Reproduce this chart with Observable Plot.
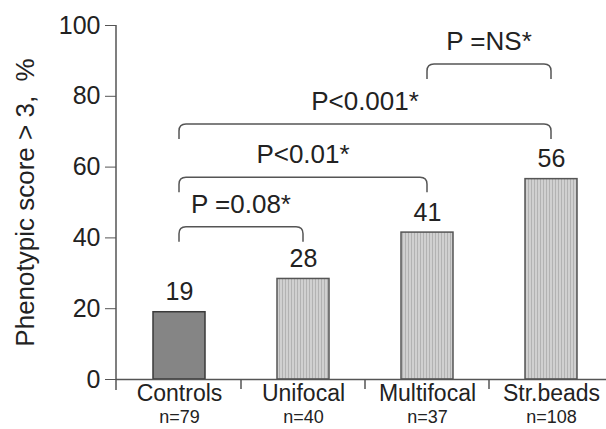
<!DOCTYPE html>
<html><head><meta charset="utf-8">
<script src="https://cdn.jsdelivr.net/npm/d3@7"></script>
<script src="https://cdn.jsdelivr.net/npm/@observablehq/plot@0.6"></script>
<style>body{margin:0;background:#fff} svg{display:block}</style>
</head><body><div id="chart"></div>
<script>
const categories = ["Controls", "Unifocal", "Multifocal", "Str.beads"];
const values = [19, 28.4, 41.5, 56.6];
const valueLabels = ["19", "28", "41", "56"];
const counts = ["n=79", "n=40", "n=37", "n=108"];
const yTicks = [0, 20, 40, 60, 80, 100];
const compFrom = ["Controls", "Controls", "Controls", "Multifocal"];
const compTo = ["Unifocal", "Multifocal", "Str.beads", "Str.beads"];
const compLabels = ["P =0.08*", "P<0.01*", "P<0.001*", "P =NS*"];
const compLevels = [43, 57, 72, 89];
const yLabel = "Phenotypic score > 3,  %";

const bars = categories.map((c, i) => ({category: c, value: values[i], label: valueLabels[i], n: counts[i]}));
const comps = compLabels.map((l, i) => ({from: compFrom[i], to: compTo[i], label: l, level: compLevels[i]}));
const countOf = new Map(categories.map((c, i) => [c, counts[i]]));

const font = "'Liberation Sans', Arial, Helvetica, sans-serif";
const ink = "#222";
const axisInk = "#555";

function defsMark() {
  const g = d3.create("svg:g");
  const p = g.append("defs").append("pattern")
    .attr("id", "stripes").attr("patternUnits", "userSpaceOnUse")
    .attr("width", 3).attr("height", 10);
  p.append("rect").attr("width", 3).attr("height", 10).attr("fill", "#d0d0d0");
  p.append("rect").attr("width", 1).attr("height", 10).attr("fill", "#b2b2b2");
  return g.node();
}

function decorMark(index, scales, values, dimensions) {
  const x = scales.x, y = scales.y;
  const bw = x.bandwidth ? x.bandwidth() : 0;
  const step = x.step ? x.step() : bw;
  const xc = (c) => x(c) + bw / 2;
  const g = d3.create("svg:g");
  const y0 = y(0);
  g.append("line").attr("x1", dimensions.marginLeft).attr("x2", dimensions.marginLeft)
    .attr("y1", y(100)).attr("y2", y0 + 11).attr("stroke", axisInk).attr("stroke-width", 1.5);
  categories.slice(1).forEach(c => {
    const xx = x(c) - (step - bw) / 2;
    g.append("line").attr("x1", xx).attr("x2", xx).attr("y1", y0).attr("y2", y0 + 10)
      .attr("stroke", axisInk).attr("stroke-width", 1.5);
  });
  comps.forEach(d => {
    const x1 = xc(d.from), x2 = xc(d.to), yt = y(d.level), yb = yt + 15, r = 7;
    g.append("path")
      .attr("d", `M${x1},${yb}L${x1},${yt + r}Q${x1},${yt} ${x1 + r},${yt}L${x2 - r},${yt}Q${x2},${yt} ${x2},${yt + r}L${x2},${yb}`)
      .attr("fill", "none").attr("stroke", axisInk).attr("stroke-width", 1.5);
    g.append("text").attr("x", (x1 + x2) / 2).attr("y", yt - 23)
      .attr("text-anchor", "middle").attr("dominant-baseline", "central")
      .attr("font-size", 26).attr("font-family", font).attr("fill", ink).text(d.label);
  });
  return g.node();
}

const chart = Plot.plot({
  width: 606,
  height: 429,
  marginLeft: 116,
  marginRight: 0,
  marginTop: 25,
  marginBottom: 50,
  style: {fontFamily: font, background: "#fff", overflow: "visible"},
  x: {type: "band", domain: categories, range: [116, 614], paddingInner: 0.58, paddingOuter: 0.29},
  y: {domain: [0, 100]},
  marks: [
    defsMark,
    Plot.barY(bars, {x: "category", y: "value",
      fill: d => d.category === "Controls" ? "#858585" : "url(#stripes)",
      stroke: d => d.category === "Controls" ? "#3a3a3a" : "#555", strokeWidth: 1.5}),
    Plot.ruleY([0], {stroke: axisInk, strokeWidth: 1.5}),
    Plot.axisY({ticks: yTicks, tickSize: 11, tickPadding: 5, fontSize: 25, stroke: axisInk, fill: ink, label: null}),
    Plot.axisX({tickSize: 0, tickPadding: 5, fontSize: 23, fill: ink, label: null}),
    Plot.axisX({tickSize: 0, tickPadding: 31, fontSize: 18, fill: ink, label: null, tickFormat: c => countOf.get(c)}),
    Plot.text(bars, {x: "category", y: "value", text: "label", dy: -20, fontSize: 25, lineAnchor: "middle", fill: ink}),
    Plot.text([yLabel], {frameAnchor: "left", rotate: -90, dx: -91, fontSize: 26, fill: ink, textAnchor: "middle", lineAnchor: "middle"}),
    decorMark
  ]
});
document.getElementById("chart").appendChild(chart);
</script>
</body></html>
